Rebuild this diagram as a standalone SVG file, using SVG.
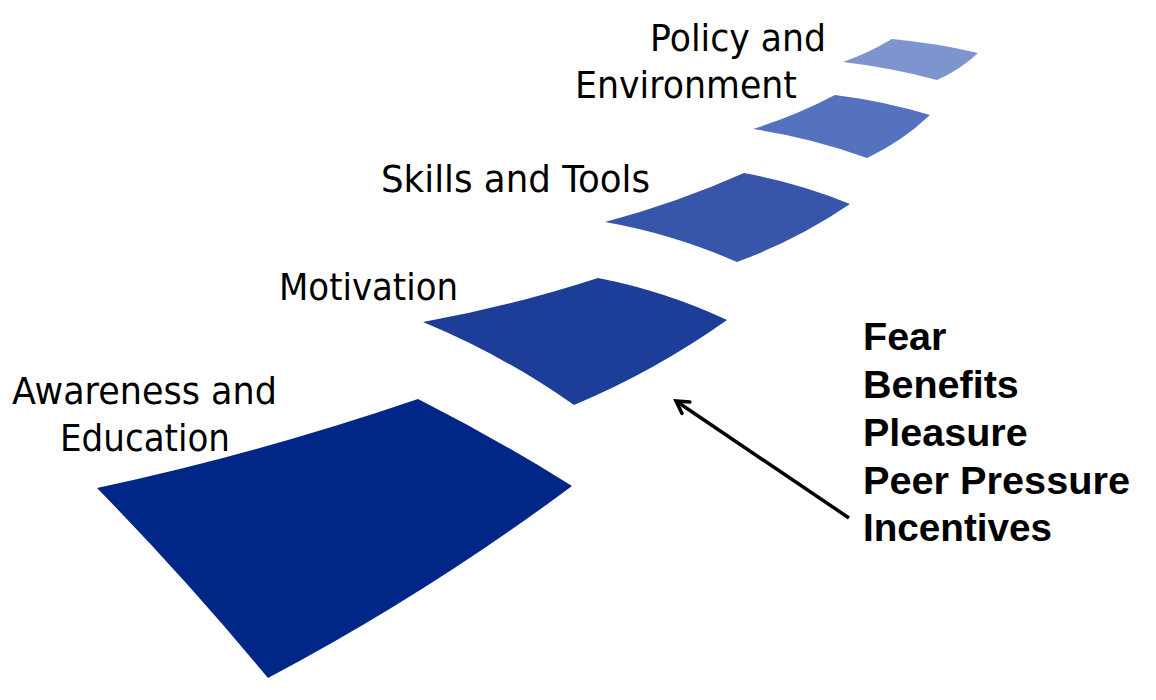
<svg xmlns="http://www.w3.org/2000/svg" width="1156" height="700" viewBox="0 0 1156 700">
  <style>
    .lbl { font-family: "DejaVu Sans", Verdana, sans-serif; font-size: 38px; fill: #000; }
    .lst { font-family: "Liberation Sans", Arial, sans-serif; font-size: 39.5px; font-weight: bold; fill: #000; }
    .tile { stroke: none; filter: url(#soft); }
  </style>
  <defs>
    <filter id="soft" x="-5%" y="-5%" width="110%" height="110%">
      <feGaussianBlur stdDeviation="0.7"/>
    </filter>
    <marker id="head" viewBox="0 0 20 20" refX="17" refY="10" markerWidth="20" markerHeight="20" markerUnits="userSpaceOnUse" orient="auto">
      <path d="M5,3 L17,10 L5,17" fill="none" stroke="#000" stroke-width="3.5" stroke-linecap="round" stroke-linejoin="miter"/>
    </marker>
  </defs>
  <rect width="1156" height="700" fill="#fff"/>

  <g id="tile-awareness">
    <path class="tile" fill="#032888" d="M97,488 Q260,453 418,399 Q497,439 572,486 Q427,594 268,678 Q186,579 97,488 Z"/>
  </g>
  <g id="tile-motivation">
    <path class="tile" fill="#1B3C98" d="M423,322 Q512,306 598,278 Q665,291 727,320 Q655,371 574,405 Q503,355 423,322 Z"/>
  </g>
  <g id="tile-skills">
    <path class="tile" fill="#3957A9" d="M605,222 Q676.5,203 744,173 Q799,183 850,204 Q797,240 737,262 Q673,234 605,222 Z"/>
  </g>
  <g id="tile-environment-low">
    <path class="tile" fill="#5572BE" d="M753,129 Q795.5,115.7 835,95 Q883.3,101 930,115 Q902,141.5 867,158 Q811.5,137.7 753,129 Z"/>
  </g>
  <g id="tile-policy">
    <path class="tile" fill="#7D94CE" d="M843,62 Q868.5,53 892,39 Q935.5,43 978,53 Q960,70 937,80 Q891,67.5 843,62 Z"/>
  </g>

  <g id="label-policy">
    <text class="lbl" x="650" y="51" textLength="176" lengthAdjust="spacingAndGlyphs">Policy and</text>
    <text class="lbl" x="575" y="98" textLength="222" lengthAdjust="spacingAndGlyphs">Environment</text>
  </g>
  <g id="label-skills">
    <text class="lbl" x="381" y="192" textLength="269" lengthAdjust="spacingAndGlyphs">Skills and Tools</text>
  </g>
  <g id="label-motivation">
    <text class="lbl" x="279" y="300" textLength="179" lengthAdjust="spacingAndGlyphs">Motivation</text>
  </g>
  <g id="label-awareness">
    <text class="lbl" x="12" y="404" textLength="265" lengthAdjust="spacingAndGlyphs">Awareness and</text>
    <text class="lbl" x="60" y="451" textLength="170" lengthAdjust="spacingAndGlyphs">Education</text>
  </g>

  <g id="motivators">
    <text class="lst" x="863" y="350">Fear</text>
    <text class="lst" x="863" y="398">Benefits</text>
    <text class="lst" x="863" y="446">Pleasure</text>
    <text class="lst" x="863" y="494" textLength="267" lengthAdjust="spacingAndGlyphs">Peer Pressure</text>
    <text class="lst" x="863" y="541" textLength="189" lengthAdjust="spacingAndGlyphs">Incentives</text>
  </g>

  <g id="connectors">
    <line x1="849" y1="518" x2="676" y2="401" stroke="#000" stroke-width="3.5" marker-end="url(#head)"/>
  </g>
</svg>
